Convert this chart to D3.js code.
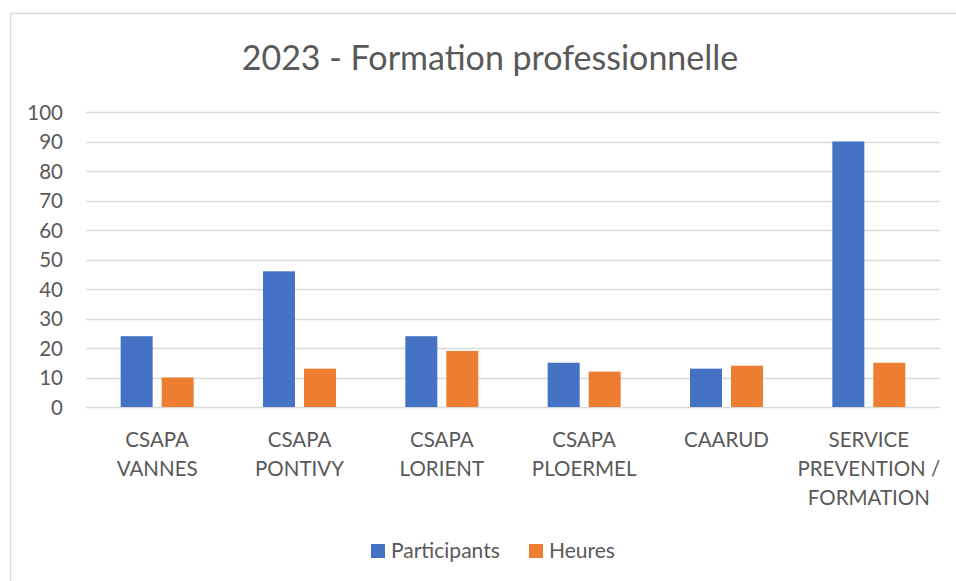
<!DOCTYPE html>
<html>
<head>
<meta charset="utf-8">
<script src="https://cdn.jsdelivr.net/npm/d3@7"></script>
<style>
  body { margin: 0; background: #fff; }
  svg text { font-family: Lato, "Open Sans", sans-serif; fill: #595959; }
</style>
</head>
<body>
<svg id="chart" width="956" height="581"></svg>
<script>
var categories = [
  ["CSAPA", "VANNES"],
  ["CSAPA", "PONTIVY"],
  ["CSAPA", "LORIENT"],
  ["CSAPA", "PLOERMEL"],
  ["CAARUD"],
  ["SERVICE", "PREVENTION /", "FORMATION"]
];
var participants = [24, 46, 24, 15, 13, 90];
var heures = [10, 13, 19, 12, 14, 15];
var seriesNames = ["Participants", "Heures"];
var colors = ["#4472c4", "#ed7d31"];
var yTicks = [0, 10, 20, 30, 40, 50, 60, 70, 80, 90, 100];

var svg = d3.select("#chart");
var plotLeft = 86, plotRight = 940, plotTop = 112, plotBottom = 407;

// chart frame
svg.append("rect")
  .attr("x", 10.5).attr("y", 13.5)
  .attr("width", 960).attr("height", 600)
  .attr("fill", "none").attr("stroke", "#d9d9d9").attr("stroke-width", 1.5);

svg.append("text")
  .attr("x", 490).attr("y", 70)
  .attr("text-anchor", "middle")
  .attr("font-size", 34)
  .text("2023 - Formation professionnelle");

var x = d3.scaleBand().domain(d3.range(categories.length)).range([plotLeft, plotRight]);
var y = d3.scaleLinear().domain([0, 100]).range([plotBottom, plotTop]);

// gridlines
svg.append("g").selectAll("line").data(yTicks).enter().append("line")
  .attr("x1", plotLeft).attr("x2", plotRight)
  .attr("y1", function (d) { return Math.round(y(d)) + 0.5; })
  .attr("y2", function (d) { return Math.round(y(d)) + 0.5; })
  .attr("stroke", "#d9d9d9").attr("stroke-width", 1.3);

var yAxis = svg.append("g")
  .attr("transform", "translate(" + plotLeft + ",0)")
  .call(d3.axisLeft(y).tickValues(yTicks).tickSize(0).tickPadding(23));
yAxis.select(".domain").remove();
yAxis.selectAll("text").attr("font-size", 20.5).attr("dy", "0.35em")
  .style("font-family", "Lato, sans-serif").attr("fill", "#595959");

var barW = 32, gap = 9;
var data = [participants, heures];
data.forEach(function (vals, s) {
  svg.append("g").selectAll("rect").data(vals).enter().append("rect")
    .attr("x", function (d, i) {
      var c = x(i) + x.bandwidth() / 2;
      return s === 0 ? c - gap / 2 - barW : c + gap / 2;
    })
    .attr("y", function (d) { return y(d); })
    .attr("width", barW)
    .attr("height", function (d) { return plotBottom - y(d); })
    .attr("fill", colors[s]);
});

// category labels
var cat = svg.append("g").selectAll("text").data(categories).enter().append("text")
  .attr("text-anchor", "middle")
  .attr("font-size", 20.5)
  .attr("x", function (d, i) { return x(i) + x.bandwidth() / 2; })
  .attr("y", 447);
cat.selectAll("tspan").data(function (d) { return d; }).enter().append("tspan")
  .attr("x", function () { return d3.select(this.parentNode).attr("x"); })
  .attr("dy", function (d, i) { return i === 0 ? 0 : 29; })
  .text(function (d) { return d; });

// legend
var legendX = [371, 529];
seriesNames.forEach(function (n, i) {
  svg.append("rect").attr("x", legendX[i]).attr("y", 544)
    .attr("width", 14).attr("height", 14).attr("fill", colors[i]);
  svg.append("text").attr("x", legendX[i] + 20).attr("y", 558)
    .attr("font-size", 21).text(n);
});
</script>
</body>
</html>
